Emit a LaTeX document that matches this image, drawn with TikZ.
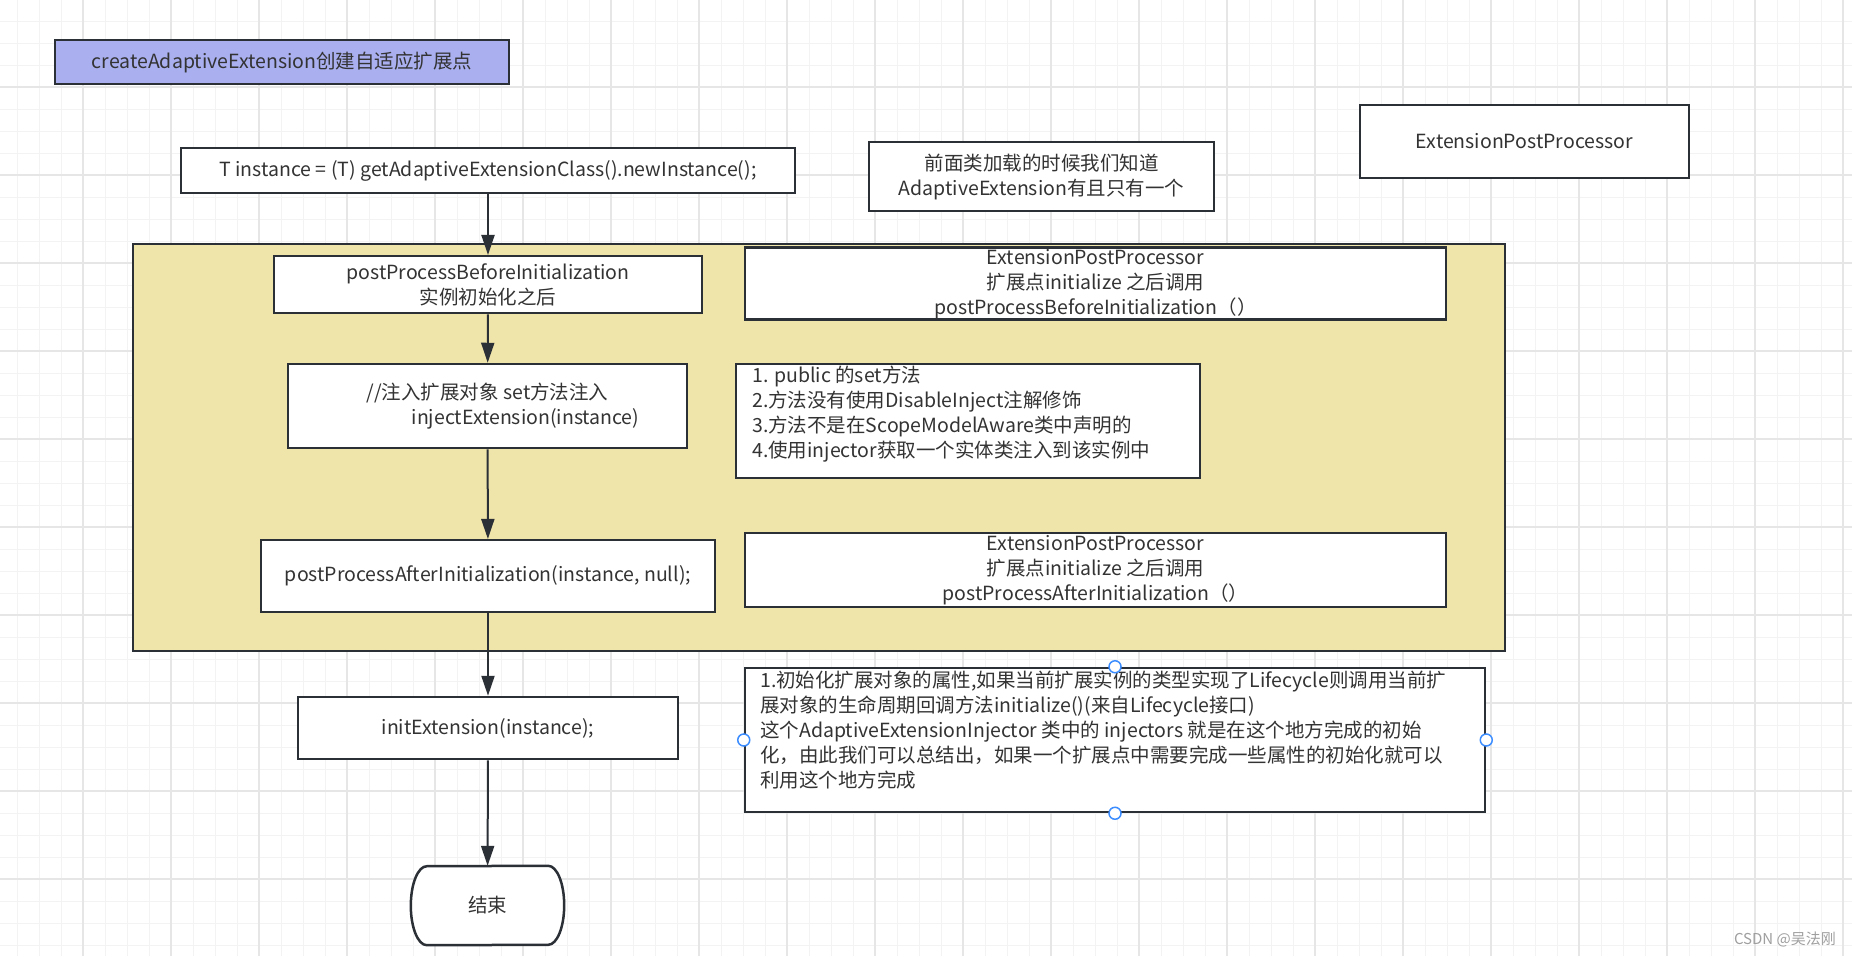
\documentclass[tikz,border=0pt]{standalone}
\usepackage{fontspec}
\setmainfont{Noto Sans CJK SC}
\usepackage{tikz}
\usetikzlibrary{calc,positioning,arrows.meta}
\definecolor{ink}{HTML}{2B2F36}
\definecolor{txt}{HTML}{333333}
\definecolor{titleblue}{HTML}{A9AFEF}
\definecolor{khaki}{HTML}{EFE4AA}
\definecolor{gridminor}{HTML}{F3F3F3}
\definecolor{gridmajor}{HTML}{E6E6E6}
\definecolor{handle}{HTML}{3C8DFF}
\def\W{1852}
\def\H{956}
\tikzstyle{box}      = [draw=ink, line width=2.5pt, fill=white, text=txt, align=center, inner sep=0pt, font=\fontsize{19.5pt}{25pt}\selectfont]
\tikzstyle{notetext} = [anchor=north west, inner sep=0pt, align=left, text=txt, font=\fontsize{19.5pt}{25pt}\selectfont]
\tikzstyle{arrow}    = [draw=ink, line width=2pt, -{Triangle[length=20pt,width=13pt]}]
\tikzstyle{handlept} = [circle, draw=handle, fill=white, line width=1.5pt, minimum size=12pt, inner sep=0pt]

\begin{document}
\begin{tikzpicture}[x=1pt,y=-1pt]
	\useasboundingbox (0,0) rectangle (\W,\H);
	\fill[white] (0,0) rectangle (\W,\H);
	% grid paper
	\foreach \gx in {17.3,39.3,...,\W} \draw[gridminor, line width=1.5pt] (\gx,0) -- (\gx,\H);
	\foreach \gy in {21.3,43.3,...,\H} \draw[gridminor, line width=1.5pt] (0,\gy) -- (\W,\gy);
	\foreach \gx in {83.3,171.3,...,\W} \draw[gridmajor, line width=2pt] (\gx,0) -- (\gx,\H);
	\foreach \gy in {87.3,175.3,...,\H} \draw[gridmajor, line width=2pt] (0,\gy) -- (\W,\gy);

	\node[box, fill=titleblue, minimum width=454pt, minimum height=44pt] (title) at (282,62) {createAdaptiveExtension创建自适应扩展点};
	\node[box, minimum width=614pt, minimum height=45pt] (newinst) at (488,170.5) {T instance = (T) getAdaptiveExtensionClass().newInstance();};
	\node[box, minimum width=345pt, minimum height=69pt] (known) at (1041.5,176.7) {前面类加载的时候我们知道\\AdaptiveExtension有且只有一个};
	\node[box, minimum width=329pt, minimum height=73pt] (epp) at (1524.5,141.5) {ExtensionPostProcessor};

	% yellow block
	\node[box, fill=khaki, minimum width=1372pt, minimum height=407pt] (group) at (819,447.5) {};
	\node[box, minimum width=428pt, minimum height=57pt] (before) at (488,284.7) {postProcessBeforeInitialization\\实例初始化之后};
	\node[box, minimum width=701pt, minimum height=72pt] (eppbefore) at (1095.5,283.7) {ExtensionPostProcessor\\扩展点initialize 之后调用\\postProcessBeforeInitialization（）};
	\node[box, minimum width=399pt, minimum height=84pt] (inject) at (487.5,406) {//注入扩展对象 set方法注入\\\hspace*{76pt}injectExtension(instance)};
	\node[box, minimum width=464pt, minimum height=114pt] (rules) at (968.2,421) {};
	\node[notetext] (rulestext) at (752,366) {1. public 的set方法\\2.方法没有使用DisableInject注解修饰\\3.方法不是在ScopeModelAware类中声明的\\4.使用injector获取一个实体类注入到该实例中};
	\node[box, minimum width=454pt, minimum height=72pt] (after) at (488,576.2) {postProcessAfterInitialization(instance, null);};
	\node[box, minimum width=701pt, minimum height=74pt] (eppafter) at (1095.5,570) {ExtensionPostProcessor\\扩展点initialize 之后调用\\postProcessAfterInitialization（）};

	\node[box, minimum width=380pt, minimum height=62pt] (init) at (488,728) {initExtension(instance);};
	\node[box, minimum width=740pt, minimum height=144pt] (initnote) at (1115,740) {};
	\node[notetext] (initnotetext) at (760,671) {1.初始化扩展对象的属性,如果当前扩展实例的类型实现了Lifecycle则调用当前扩\\展对象的生命周期回调方法initialize()(来自Lifecycle接口)\\这个AdaptiveExtensionInjector 类中的 injectors 就是在这个地方完成的初始\\化，由此我们可以总结出，如果一个扩展点中需要完成一些属性的初始化就可以\\利用这个地方完成};
	\foreach \side in {north,south,east,west}
		\node[handlept] (h\side) at (initnote.\side) {};

	% end terminal
	\node[text=txt, inner sep=0pt, minimum width=153pt, minimum height=79pt, font=\fontsize{19.5pt}{25pt}\selectfont] (finish) at (487.5,905.5) {结束};
	\fill[white, draw=ink, line width=2.5pt] ($(finish.north east)+(-16,0)$) arc[start angle=90, end angle=-90, x radius=16pt, y radius=39.5pt] -- ($(finish.south west)+(16,0)$) arc[start angle=270, end angle=90, x radius=16pt, y radius=39.5pt] -- cycle;
	\node[text=txt, font=\fontsize{19.5pt}{25pt}\selectfont] at (finish) {结束};

	\draw[arrow] (newinst) -- (before);
	\draw[arrow] (before) -- (inject);
	\draw[arrow] (inject) -- (after);
	\draw[arrow] (after) -- (init);
	\draw[arrow] (init) -- (finish);

	\node[text=gray!75, inner sep=0pt, anchor=east, font=\fontsize{15pt}{17pt}\selectfont] (mark) at (1836,939) {CSDN @吴法刚};
\end{tikzpicture}
\end{document}
